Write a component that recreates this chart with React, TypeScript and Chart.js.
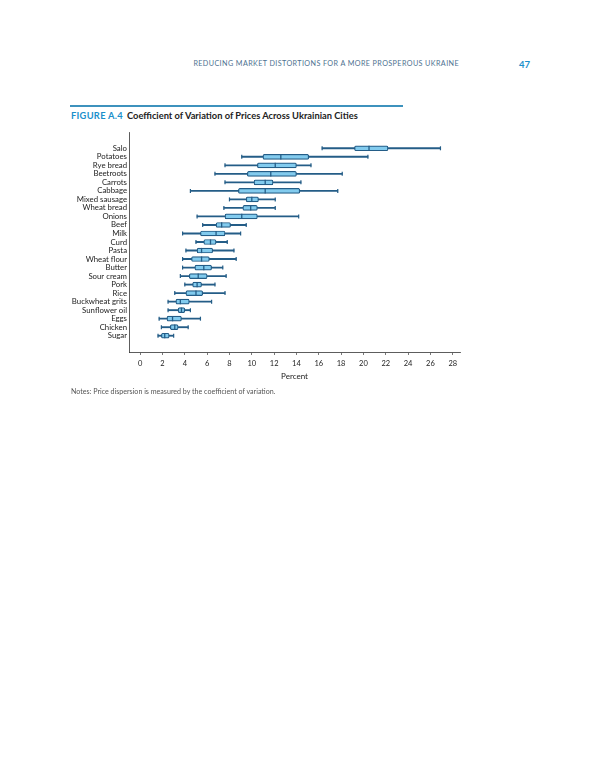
import { useEffect, useRef } from "react";
import { Chart, registerables } from "chart.js";
Chart.register(...registerables);

// Coefficient of variation (percent) across Ukrainian cities
const categories = [
  "Salo", "Potatoes", "Rye bread", "Beetroots", "Carrots", "Cabbage", "Mixed sausage",
  "Wheat bread", "Onions", "Beef", "Milk", "Curd", "Pasta", "Wheat flour", "Butter",
  "Sour cream", "Pork", "Rice", "Buckwheat grits", "Sunflower oil", "Eggs", "Chicken", "Sugar",
];
const whiskerLow = [16.3, 9.1, 7.6, 6.7, 7.6, 4.5, 8.0, 7.5, 5.1, 5.6, 3.8, 5.0, 4.1, 3.8, 3.8, 3.6, 4.0, 3.1, 2.5, 2.5, 1.7, 1.9, 1.6];
const boxLow = [19.2, 11.0, 10.5, 9.6, 10.2, 8.8, 9.5, 9.2, 7.6, 6.8, 5.4, 5.7, 5.1, 4.6, 4.9, 4.4, 4.7, 4.1, 3.2, 3.4, 2.4, 2.7, 1.9];
const medians = [20.5, 12.6, 12.1, 11.7, 11.2, 11.2, 10.0, 9.9, 9.1, 7.3, 6.8, 6.3, 5.5, 5.5, 5.7, 5.2, 5.1, 5.0, 3.6, 3.7, 2.9, 3.1, 2.2];
const boxHigh = [22.2, 15.1, 14.0, 14.0, 11.9, 14.3, 10.6, 10.5, 10.5, 8.1, 7.6, 6.8, 6.5, 6.2, 6.4, 6.0, 5.5, 5.6, 4.4, 4.0, 3.7, 3.4, 2.6];
const whiskerHigh = [26.9, 20.4, 15.3, 18.1, 14.4, 17.7, 12.1, 12.1, 14.2, 9.5, 9.0, 7.8, 8.4, 8.6, 7.4, 7.7, 6.7, 7.6, 6.4, 4.5, 5.4, 4.3, 3.0];
const tickValues = [0, 2, 4, 6, 8, 10, 12, 14, 16, 18, 20, 22, 24, 26, 28];

const lineColor = "#245d87";
const boxFill = "#82cbee";
const font = "Lato, sans-serif";

export default function App() {
  const canvasRef = useRef<HTMLCanvasElement | null>(null);

  useEffect(() => {
    let chart: Chart | null = null;
    let cancelled = false;

    const build = () => {
      const ctx = canvasRef.current?.getContext("2d");
      if (!ctx || cancelled) return;
      const idx = categories.map((_, i) => i);

      chart = new Chart(ctx, {
        type: "bar",
        data: {
          datasets: [
            {
              type: "line",
              label: "Median",
              data: idx.map((i) => ({ x: medians[i], y: i })),
              showLine: false,
              pointStyle: "line",
              pointRotation: 90,
              pointRadius: 2.6,
              pointBorderWidth: 1.3,
              pointBorderColor: lineColor,
            },
            {
              type: "line",
              label: "Caps",
              data: idx.flatMap((i) => [{ x: whiskerLow[i], y: i }, { x: whiskerHigh[i], y: i }]),
              showLine: false,
              pointStyle: "line",
              pointRotation: 90,
              pointRadius: 2,
              pointBorderWidth: 1.2,
              pointBorderColor: lineColor,
            },
            {
              type: "bar",
              label: "Interquartile range",
              data: idx.map((i) => ({ x: [boxLow[i], boxHigh[i]], y: i })),
              backgroundColor: boxFill,
              borderColor: lineColor,
              borderWidth: 1.2,
              borderSkipped: false,
              borderRadius: 1.5,
              barThickness: 5,
              grouped: false,
            },
            {
              type: "bar",
              label: "Range",
              data: idx.map((i) => ({ x: [whiskerLow[i], whiskerHigh[i]], y: i })),
              backgroundColor: lineColor,
              borderWidth: 0,
              barThickness: 1.2,
              grouped: false,
            },
          ] as any,
        },
        options: {
          indexAxis: "y",
          responsive: true,
          maintainAspectRatio: false,
          animation: false,
          layout: { padding: { top: 12, right: 20, left: 0, bottom: 0 } },
          plugins: { legend: { display: false }, tooltip: { enabled: false } },
          scales: {
            x: {
              type: "linear",
              min: -1,
              max: 28.65,
              afterBuildTicks: (scale: any) => {
                scale.ticks = tickValues.map((v) => ({ value: v }));
              },
              afterFit: (scale: any) => {
                scale.height = 48;
              },
              grid: { drawOnChartArea: false, tickLength: 3, color: "#555", lineWidth: 0.8 },
              border: { display: true, color: "#333", width: 0.8 },
              ticks: { padding: 4, color: "#222", font: { family: font, size: 7.5 } },
              title: {
                display: true,
                text: "Percent",
                color: "#222",
                font: { family: font, size: 8 },
                padding: { top: 0, bottom: 19 },
              },
            },
            y: {
              type: "linear",
              reverse: true,
              min: -1.35,
              max: 23.35,
              afterBuildTicks: (scale: any) => {
                scale.ticks = categories.map((_, i) => ({ value: i }));
              },
              afterFit: (scale: any) => {
                scale.width = 129;
              },
              grid: { display: false, drawTicks: false, tickLength: 0 },
              border: { display: true, color: "#333", width: 0.8 },
              ticks: {
                autoSkip: false,
                padding: 2,
                color: "#222",
                font: { family: font, size: 7.8 },
                callback: (v: any) => categories[v] ?? "",
              },
            },
          },
        },
      });
    };

    const fonts = (document as any).fonts;
    if (fonts && fonts.load) {
      Promise.all([fonts.load("8px Lato"), fonts.load("bold 8px Lato")])
        .catch(() => undefined)
        .then(build);
    } else {
      build();
    }

    return () => {
      cancelled = true;
      chart?.destroy();
    };
  }, []);

  return (
    <div style={{ position: "relative", width: 600, height: 776, background: "#fff", fontFamily: font }}>
      <style>{"body{margin:0}"}</style>
      <div
        style={{
          position: "absolute",
          right: 141,
          top: 59,
          fontSize: 7.2,
          letterSpacing: 0.4,
          color: "#4d7190",
          whiteSpace: "nowrap",
        }}
      >
        REDUCING MARKET DISTORTIONS FOR A MORE PROSPEROUS UKRAINE
      </div>
      <div style={{ position: "absolute", left: 519, top: 59, fontSize: 9.5, fontWeight: 700, color: "#1b8fcb" }}>47</div>
      <div style={{ position: "absolute", left: 70, top: 105, width: 333, height: 1.5, background: "#3d92bd" }} />
      <div style={{ position: "absolute", left: 71, top: 110, fontSize: 9.3, fontWeight: 700, whiteSpace: "nowrap", color: "#222" }}>
        <span style={{ color: "#1b8fcb", letterSpacing: 0.3 }}>FIGURE A.4</span>
        <span style={{ marginLeft: 4 }}>Coefficient of Variation of Prices Across Ukrainian Cities</span>
      </div>
      <div style={{ position: "absolute", left: 0, top: 120, width: 480, height: 280 }}>
        <canvas ref={canvasRef} />
      </div>
      <div style={{ position: "absolute", left: 71, top: 387, fontSize: 7.1, color: "#555", whiteSpace: "nowrap" }}>
        Notes: Price dispersion is measured by the coefficient of variation.
      </div>
    </div>
  );
}
